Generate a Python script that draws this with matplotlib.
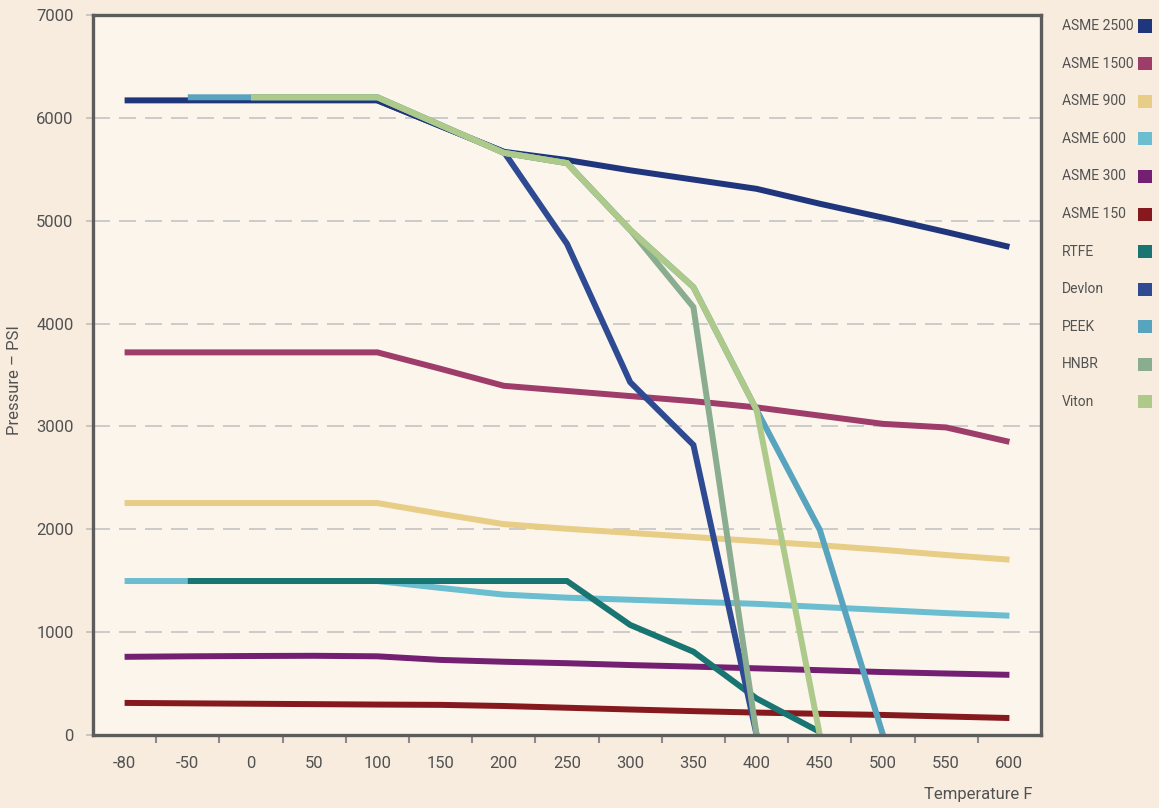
import numpy as np
import matplotlib
matplotlib.use("Agg")
import matplotlib.pyplot as plt
from matplotlib.patches import Rectangle

nan = np.nan

temps = [-80, -50, 0, 50, 100, 150, 200, 250, 300, 350, 400, 450, 500, 550, 600]

asme2500 = [6170, 6170, 6170, 6170, 6170, 5920, 5670, 5590, 5490, 5400, 5310, 5165, 5030, 4890, 4745]
asme1500 = [3720, 3720, 3720, 3720, 3720, 3560, 3395, 3345, 3295, 3245, 3185, 3105, 3025, 2990, 2850]
asme900 = [2255, 2255, 2255, 2255, 2255, 2150, 2050, 2005, 1965, 1925, 1885, 1845, 1800, 1750, 1705]
asme600 = [1497, 1497, 1497, 1497, 1497, 1430, 1365, 1335, 1315, 1295, 1275, 1245, 1215, 1185, 1160]
asme300 = [760, 765, 768, 770, 765, 730, 712, 698, 680, 665, 648, 630, 612, 598, 585]
asme150 = [312, 308, 304, 300, 296, 293, 282, 265, 248, 232, 218, 206, 195, 180, 165]
rtfe = [nan, 1497, 1497, 1497, 1497, 1497, 1497, 1497, 1070, 810, 355, 30, nan, nan, nan]
devlon = [nan, nan, nan, nan, 6170, 5920, 5670, 4775, 3430, 2820, 0, nan, nan, nan, nan]
peek = [nan, 6200, 6200, 6200, 6200, 5930, 5660, 5560, 4910, 4355, 3160, 1995, 0, nan, nan]
hnbr = [nan, nan, 6200, 6200, 6200, 5930, 5660, 5560, 4910, 4160, 0, nan, nan, nan, nan]
viton = [nan, nan, 6200, 6200, 6200, 5930, 5660, 5560, 4910, 4355, 3160, 0, nan, nan, nan]

series_names = ["ASME 2500", "ASME 1500", "ASME 900", "ASME 600", "ASME 300",
                "ASME 150", "RTFE", "Devlon", "PEEK", "HNBR", "Viton"]
series_values = [asme2500, asme1500, asme900, asme600, asme300,
                 asme150, rtfe, devlon, peek, hnbr, viton]
series_colors = ["#1f367c", "#9e3d69", "#e8cd86", "#6bbdd0", "#742072",
                 "#86191d", "#197571", "#2d4a92", "#58a4bf", "#8aad8f", "#adca8b"]

y_ticks = [0, 1000, 2000, 3000, 4000, 5000, 6000, 7000]

fig_bg = "#f7ecde"
ax_bg = "#fbf5ec"
text_col = "#525252"
frame_col = "#5c5c5c"

plt.rcParams['font.family'] = ['Roboto', 'DejaVu Sans']

fig = plt.figure(figsize=(11.59, 8.08), dpi=100, facecolor=fig_bg)
ax = fig.add_axes([93/1159, 1 - 735/808, (1041-93)/1159, (735-15)/808])
ax.set_facecolor(ax_bg)

x = np.arange(len(temps))

# draw order: ASME series first (reverse so 2500 ends up over Devlon), then materials
order = [5, 4, 3, 2, 1, 6, 7, 0, 8, 9, 10]
for i in order:
    ax.plot(x, series_values[i], color=series_colors[i], lw=4.3,
            solid_joinstyle='miter', solid_capstyle='butt', zorder=3 + order.index(i) * 0.01)

ax.set_xlim(-0.5, len(temps) - 0.5)
ax.set_ylim(0, 7000)

ax.set_yticks(y_ticks)
ax.set_yticklabels([str(v) for v in y_ticks])
for v in y_ticks[1:-1]:
    ax.axhline(v, color="#c4c4c4", lw=1.2, linestyle=(0, (10.2, 5.4)), zorder=1)

ax.set_xticks(x)
ax.set_xticklabels([str(t) for t in temps])
ax.set_xticks(np.arange(0.5, len(temps) - 1, 1.0), minor=True)

ax.tick_params(axis='x', which='major', length=0, pad=15, labelsize=12, labelcolor=text_col)
ax.tick_params(axis='x', which='minor', length=6, width=1.5, color="#8a8a8a", direction='out')
ax.tick_params(axis='y', which='major', length=5, width=1.3, color="#c4c4c4", pad=9,
               labelsize=12, labelcolor=text_col)

for s in ax.spines.values():
    s.set_color(frame_col)
    s.set_linewidth(2.4)
    s.set_zorder(10)

fig.text(15/1159, 1 - 380/808, "Pressure – PSI", rotation=90, ha='center', va='center',
         fontsize=12, color=text_col)
fig.text(1033/1159, 1 - 795/808, "Temperature F", ha='right', va='center',
         fontsize=12, color=text_col)

# legend
y0 = 26
dy = 37.6
for k, (name, col) in enumerate(zip(series_names, series_colors)):
    yc = y0 + k * dy
    fig.text(1062/1159, 1 - yc/808, name, ha='left', va='center', fontsize=10, color=text_col)
    fig.patches.append(Rectangle((1138/1159, 1 - (yc + 6.5)/808), 14/1159, 13/808,
                                 transform=fig.transFigure, facecolor=col, edgecolor='none'))

fig.savefig("out.png", dpi=100, facecolor=fig_bg)
